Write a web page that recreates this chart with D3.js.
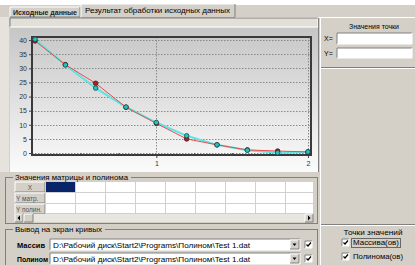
<!DOCTYPE html>
<html>
<head>
<meta charset="utf-8">
<script src="https://cdn.jsdelivr.net/npm/d3@7"></script>
<style>
  body { margin: 0; background: #fff; }
  svg { display: block; font-family: "Liberation Sans", Arial, sans-serif; }
</style>
</head>
<body>
<svg id="svg" width="415" height="265"></svg>
<script>
// chart data
var xValues = [0.2, 0.4, 0.6, 0.8, 1.0, 1.2, 1.4, 1.6, 1.8, 2.0];
var arrayY = [39.7, 31.3, 24.7, 16.2, 10.5, 5.0, 2.9, 1.1, 0.7, 0.4];
var polyY = [40.3, 31.2, 23.0, 16.3, 10.8, 6.1, 2.9, 1.0, 0.1, 0.4];
var yTicks = [0, 5, 10, 15, 20, 25, 30, 35, 40];
var xTicks = [1, 2];
var xMinor = [0.5, 0.75, 1.25, 1.5, 1.75];

var tabLabels = ["Исходные данные", "Результат обработки исходных данных"];
var rowLabels = ["X", "Y матр.", "Y полин."];
var filePath = "D:\\Рабочий диск\\Start2\\Programs\\Полином\\Test 1.dat";

var svg = d3.select("#svg");
var face = "#d4d0c8";

// helpers for classic windows look
function bevel(g, x, y, w, h, sunken, fill) {
  g.append("rect").attr("x", x).attr("y", y).attr("width", w).attr("height", h)
    .attr("fill", fill || face);
  var light = sunken ? "#808080" : "#ffffff";
  var dark = sunken ? "#ffffff" : "#808080";
  g.append("path").attr("d", `M${x},${y + h}V${y}H${x + w}`).attr("fill", "none").attr("stroke", light);
  g.append("path").attr("d", `M${x + w},${y}V${y + h}H${x}`).attr("fill", "none").attr("stroke", dark);
}
function label(g, x, y, txt, opts) {
  opts = opts || {};
  var t = g.append("text").attr("x", x).attr("y", y).text(txt)
    .attr("font-size", opts.size || 7)
    .attr("font-weight", opts.bold ? "bold" : "normal")
    .attr("fill", opts.color || "#000")
    .attr("text-anchor", opts.anchor || "start");
  if (opts.len) t.attr("textLength", opts.len).attr("lengthAdjust", "spacingAndGlyphs");
  return t;
}
function checkbox(g, x, y) {
  bevel(g, x, y, 7, 7, true, "#fff");
  g.append("path").attr("d", `M${x + 1.5},${y + 3.5}l1.5,1.5l3,-3.5`)
    .attr("fill", "none").attr("stroke", "#000").attr("stroke-width", 1.2);
}

// window background
svg.append("rect").attr("width", 415).attr("height", 265).attr("fill", face);
svg.append("rect").attr("width", 415).attr("height", 5).attr("fill", "#fff");
svg.append("rect").attr("x", 0).attr("y", 17).attr("width", 9).attr("height", 155).attr("fill", "#e6e3dc");

// tabs
var tabs = svg.append("g");
bevel(tabs, 10, 7, 70, 10, false);
label(tabs, 13, 15, tabLabels[0], { bold: true, size: 6.5, len: 64, color: "#222" });
bevel(tabs, 81, 4, 154, 14, false);
label(tabs, 85, 13, tabLabels[1], { size: 7, len: 145 });
tabs.append("line").attr("x1", 235).attr("x2", 415).attr("y1", 17.5).attr("y2", 17.5).attr("stroke", "#fff");

// strip under the tabs
bevel(svg, 10, 18, 308, 9, true, "#e2dfd8");

// chart panel with gradient
var defs = svg.append("defs");
var grad = defs.append("linearGradient").attr("id", "bg").attr("x1", 0).attr("x2", 0).attr("y1", 0).attr("y2", 1);
grad.append("stop").attr("offset", "0%").attr("stop-color", "#c6c6c6");
grad.append("stop").attr("offset", "100%").attr("stop-color", "#fbfbfb");
svg.append("rect").attr("x", 10).attr("y", 28).attr("width", 308).attr("height", 144).attr("fill", "url(#bg)");
svg.append("line").attr("x1", 318.5).attr("x2", 318.5).attr("y1", 18).attr("y2", 172).attr("stroke", "#808080");

var plot = { left: 32, right: 311, top: 37, bottom: 155 };
var x = d3.scaleLinear().domain([0.18, 2.02]).range([plot.left, plot.right]);
var y = d3.scaleLinear().domain([-0.7, 41.1]).range([plot.bottom, plot.top]);

var chart = svg.append("g");

// dotted grid
chart.selectAll(".hg").data(yTicks).enter().append("line")
  .attr("x1", plot.left).attr("x2", plot.right)
  .attr("y1", d => Math.round(y(d)) + 0.5).attr("y2", d => Math.round(y(d)) + 0.5)
  .attr("stroke", "#8a8a8a").attr("stroke-dasharray", "1.5,1.5");
chart.selectAll(".vg").data(xTicks).enter().append("line")
  .attr("x1", d => Math.round(x(d)) + 0.5).attr("x2", d => Math.round(x(d)) + 0.5)
  .attr("y1", plot.top).attr("y2", plot.bottom)
  .attr("stroke", "#8a8a8a").attr("stroke-dasharray", "1.5,1.5");

// axes
var yAxis = chart.append("g").attr("transform", `translate(${plot.left},0)`)
  .call(d3.axisLeft(y).tickValues(yTicks).tickSize(3).tickPadding(2));
var xAxis = chart.append("g").attr("transform", `translate(0,${plot.bottom})`)
  .call(d3.axisBottom(x).tickValues(xTicks).tickSize(3).tickPadding(3).tickFormat(d3.format("d")));
chart.append("g").attr("transform", `translate(0,${plot.bottom})`)
  .call(d3.axisTop(x).tickValues(xMinor).tickSize(2).tickFormat(""))
  .call(g => g.select(".domain").remove());
chart.selectAll(".tick text").attr("font-size", 7).attr("fill", "#333")
  .attr("font-family", "Liberation Sans, Arial, sans-serif");
chart.selectAll(".tick line").attr("stroke", "#444");
chart.selectAll(".domain").attr("stroke", "none");

// frame
chart.append("rect").attr("x", plot.left).attr("y", plot.top)
  .attr("width", plot.right - plot.left).attr("height", plot.bottom - plot.top)
  .attr("fill", "none").attr("stroke", "#3a3a3a").attr("stroke-width", 2);

// series
var line = d3.line().x((d, i) => x(xValues[i])).y(d => y(d));
chart.append("path").datum(polyY).attr("d", line)
  .attr("fill", "none").attr("stroke", "#5fe3e3").attr("stroke-width", 2);
chart.append("path").datum(arrayY).attr("d", line)
  .attr("fill", "none").attr("stroke", "#ee4a4a").attr("stroke-width", 1);

chart.selectAll(".pa").data(arrayY).enter().append("circle")
  .attr("cx", (d, i) => x(xValues[i])).attr("cy", d => y(d)).attr("r", 2.3)
  .attr("fill", "#c01818").attr("stroke", "#3a2020").attr("stroke-width", 0.8);
chart.selectAll(".pp").data(polyY).enter().append("circle")
  .attr("cx", (d, i) => x(xValues[i])).attr("cy", d => y(d)).attr("r", 2.3)
  .attr("fill", "#22c4c4").attr("stroke", "#204848").attr("stroke-width", 0.8);

// right panel
var rp = svg.append("g");
rp.append("line").attr("x1", 320.5).attr("x2", 320.5).attr("y1", 18).attr("y2", 265).attr("stroke", "#fff");
label(rp, 374, 29, "Значения точки", { anchor: "middle", size: 6.5, len: 50 });
label(rp, 324, 41, "X=", { size: 7 });
bevel(rp, 337, 33, 75, 11, true, "#fff");
label(rp, 324, 56, "Y=", { size: 7 });
bevel(rp, 337, 48, 75, 10, true, "#fff");
rp.append("line").attr("x1", 321).attr("x2", 415).attr("y1", 67.5).attr("y2", 67.5).attr("stroke", "#808080");
rp.append("line").attr("x1", 321).attr("x2", 415).attr("y1", 68.5).attr("y2", 68.5).attr("stroke", "#fff");
rp.append("line").attr("x1", 321).attr("x2", 415).attr("y1", 224.5).attr("y2", 224.5).attr("stroke", "#808080");
rp.append("line").attr("x1", 321).attr("x2", 415).attr("y1", 225.5).attr("y2", 225.5).attr("stroke", "#fff");
label(rp, 373, 235, "Точки значений", { anchor: "middle", size: 6.5, len: 59 });
checkbox(rp, 342, 239);
label(rp, 353, 245, "Массива(ов)", { size: 7, len: 46 });
rp.append("rect").attr("x", 351.5).attr("y", 238.5).attr("width", 49).attr("height", 9)
  .attr("fill", "none").attr("stroke", "#000").attr("stroke-dasharray", "1,1");
checkbox(rp, 342, 253);
label(rp, 353, 259, "Полинома(ов)", { size: 7, len: 50 });

// table group
var tg = svg.append("g");
tg.append("rect").attr("x", 5.5).attr("y", 177.5).attr("width", 312).attr("height", 46)
  .attr("fill", "none").attr("stroke", "#808080");
tg.append("rect").attr("x", 13).attr("y", 174).attr("width", 118).attr("height", 7).attr("fill", face);
label(tg, 15, 180, "Значения матрицы и полинома", { size: 7, len: 113 });
tg.append("rect").attr("x", 15).attr("y", 182).attr("width", 298).attr("height", 32).attr("fill", "#fff");
var rowTop = [182, 193, 204];
rowTop.forEach(function (ty, r) {
  bevel(tg, 15, ty, 30, 10, false);
  label(tg, r === 0 ? 30 : 16, ty + 8, rowLabels[r], { size: 6.5, color: "#555", anchor: r === 0 ? "middle" : "start" });
});
var cellX = d3.range(45, 313, 30);
tg.selectAll(".vc").data(cellX.concat([313])).enter().append("line")
  .attr("x1", d => d + 0.5).attr("x2", d => d + 0.5).attr("y1", 182).attr("y2", 214)
  .attr("stroke", "#d0d0d0");
tg.selectAll(".hc").data([192.5, 203.5, 213.5]).enter().append("line")
  .attr("x1", 45).attr("x2", 313).attr("y1", d => d).attr("y2", d => d).attr("stroke", "#d0d0d0");
tg.append("rect").attr("x", 46).attr("y", 182).attr("width", 29).attr("height", 10).attr("fill", "#0a246a");
// scrollbar
tg.append("rect").attr("x", 15).attr("y", 214).attr("width", 298).attr("height", 8).attr("fill", "#e8e6e0");
bevel(tg, 15, 214, 8, 8, false);
tg.append("path").attr("d", "M17.5,218l2.5,-2.5v5z").attr("fill", "#000");
bevel(tg, 24, 214, 9, 8, false);
bevel(tg, 305, 214, 8, 8, false);
tg.append("path").attr("d", "M310.5,218l-2.5,-2.5v5z").attr("fill", "#000");

// curves output group
var og = svg.append("g");
og.append("rect").attr("x", 5.5).attr("y", 229.5).attr("width", 312).attr("height", 40)
  .attr("fill", "none").attr("stroke", "#808080");
og.append("rect").attr("x", 13).attr("y", 226).attr("width", 92).attr("height", 7).attr("fill", face);
label(og, 15, 232, "Вывод на экран кривых", { size: 7, len: 87 });
[["Массив", 239], ["Полином", 253]].forEach(function (row) {
  var ty = row[1];
  label(og, 17, ty + 8.5, row[0], { bold: true, size: 7, len: row[0] === "Массив" ? 28 : 31 });
  bevel(og, 50, ty, 250, 11, true, "#fff");
  label(og, 53, ty + 8.5, filePath, { size: 7, len: 197 });
  bevel(og, 290, ty + 1, 9, 9, false);
  og.append("path").attr("d", `M292.5,${ty + 4.5}h4l-2,2.5z`).attr("fill", "#000");
  checkbox(og, 305, ty + 2);
});
</script>
</body>
</html>
